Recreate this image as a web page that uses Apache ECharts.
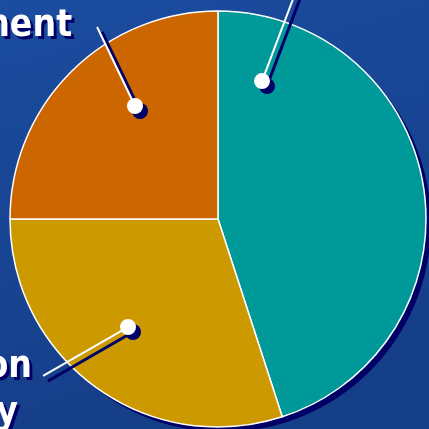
<!DOCTYPE html>
<html>
<head>
<meta charset="utf-8">
<script src="https://cdn.jsdelivr.net/npm/echarts@6/dist/echarts.min.js"></script>
<style>
  html, body { margin: 0; padding: 0; background: #1a4a9c; }
  #chart { width: 429px; height: 429px; }
</style>
</head>
<body>
<div id="chart"></div>
<script>
// Slice data (share of total, %)
const categories = ['Operations', 'Production Capacity', 'Investment'];
const shares = [45, 30, 25];
// Label text, one entry per line
const labelText = [['Operations'], ['Production', 'Capacity'], ['Investment']];

const sliceColors = ['#009999', '#cc9900', '#cc6600'];
const shadowColor = '#000066';
const pieCenter = [218, 219];
const pieRadius = 208;
const labelFont = '"DejaVu Sans Condensed", "DejaVu Sans", sans-serif';

// Callout layout: pin and line tip in polar terms
// (radius as a fraction of the pie radius, angle clockwise from 12 o'clock),
// plus per-line text anchors relative to the line tip.
const calloutLayout = [
  { pin: [0.696, 17.7], tip: [1.30, 19.1], lines: [[0, -40, 'center']] },
  { pin: [0.676, 219.8], tip: [1.130, 228.1], lines: [[-11, -9, 'right'], [-25, 37, 'right']] },
  { pin: [0.674, 323.7], tip: [1.091, 327.8], lines: [[-25, -1, 'right']] }
];

const chart = echarts.init(document.getElementById('chart'), null, { renderer: 'canvas' });

const total = shares.reduce((a, b) => a + b, 0);

chart.setOption({
  animation: false,
  backgroundColor: {
    type: 'linear', x: 0, y: 0, x2: 0.3, y2: 1,
    colorStops: [
      { offset: 0, color: '#1b4c9f' },
      { offset: 1, color: '#153e88' }
    ]
  },
  polar: { center: pieCenter, radius: pieRadius },
  angleAxis: { type: 'value', min: 0, max: 360, startAngle: 90, clockwise: true, show: false },
  radiusAxis: { type: 'value', min: 0, max: 1, show: false },
  series: [
    {
      // drop shadow under the pie
      type: 'pie',
      silent: true,
      z: 1,
      center: [pieCenter[0] + 5, pieCenter[1] + 5],
      radius: pieRadius,
      label: { show: false },
      labelLine: { show: false },
      itemStyle: { color: shadowColor },
      data: [{ name: 'all', value: total }]
    },
    {
      type: 'pie',
      z: 2,
      center: pieCenter,
      radius: pieRadius,
      startAngle: 90,
      clockwise: true,
      label: { show: false },
      labelLine: { show: false },
      itemStyle: { borderColor: '#ffffff', borderWidth: 1.5 },
      data: categories.map((name, i) => ({
        name, value: shares[i], itemStyle: { color: sliceColors[i] }
      }))
    },
    {
      type: 'custom',
      coordinateSystem: 'polar',
      z: 3,
      silent: true,
      encode: { radius: 0, angle: 1 },
      data: calloutLayout.map((c, i) => [c.pin[0], c.pin[1], c.tip[0], c.tip[1], i]),
      renderItem: function (params, api) {
        const i = api.value(4);
        const p = api.coord([api.value(0), api.value(1)]);
        const t = api.coord([api.value(2), api.value(3)]);
        const off = 5;
        const children = [
          { type: 'line', shape: { x1: p[0] + off, y1: p[1] + off, x2: t[0] + off, y2: t[1] + off },
            style: { stroke: shadowColor, lineWidth: 3 } },
          { type: 'circle', shape: { cx: p[0] + off, cy: p[1] + off, r: 8 },
            style: { fill: shadowColor } },
          { type: 'line', shape: { x1: p[0], y1: p[1], x2: t[0], y2: t[1] },
            style: { stroke: '#ffffff', lineWidth: 2 } },
          { type: 'circle', shape: { cx: p[0], cy: p[1], r: 8 },
            style: { fill: '#ffffff' } }
        ];
        const lay = calloutLayout[i];
        labelText[i].forEach((txt, k) => {
          const a = lay.lines[k];
          const base = {
            text: txt, font: 'bold 37px ' + labelFont,
            textAlign: a[2], textVerticalAlign: 'middle'
          };
          children.push({ type: 'text', x: t[0] + a[0] + 3, y: t[1] + a[1] + 3,
            style: Object.assign({ fill: shadowColor }, base) });
          children.push({ type: 'text', x: t[0] + a[0], y: t[1] + a[1],
            style: Object.assign({ fill: '#ffffff' }, base) });
        });
        return { type: 'group', children };
      }
    }
  ]
});
</script>
</body>
</html>
